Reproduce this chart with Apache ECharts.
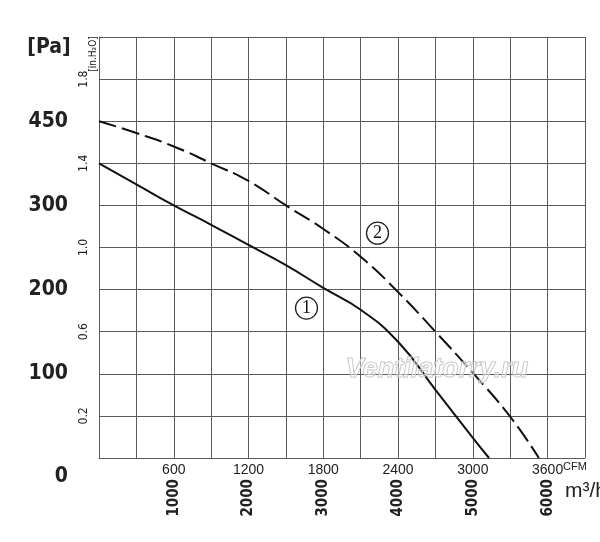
<!DOCTYPE html>
<html>
<head>
<meta charset="utf-8">
<script src="https://cdn.jsdelivr.net/npm/echarts@6/dist/echarts.min.js"></script>
<style>
html,body{margin:0;padding:0;background:#fff;}
#main{width:600px;height:542px;}
</style>
</head>
<body>
<div id="main"></div>
<script>
// data: airflow in CFM, pressure in Pa
var curve1 = [[0,350],[300,325],[600,300],[900,277],[1200,253],[1500,229],[1800,202],[2100,176],[2400,138],[2700,81],[3000,24],[3130,0]];
var curve2 = [[0,400],[300,386],[600,370],[900,350],[1200,329],[1500,300],[1800,272],[2100,239],[2400,197],[2700,150],[3000,101],[3300,49],[3530,0]];
var mark1 = [1665,178]; // ①
var mark2 = [2235,267]; // ②

var cfmTicks = [600,1200,1800,2400,3000,3600];
var m3Ticks = [1000,2000,3000,4000,5000,6000];
var inTicks = [0.2,0.6,1.0,1.4,1.8];
var paTicks = [0,100,200,300,400];
var paText = ['0','100','200','300','450'];

var narrow = "'Liberation Sans Narrow','DejaVu Sans Condensed','Arial Narrow',sans-serif";
var gridCol = '#5a5a5a';

var myChart = echarts.init(document.getElementById('main'));

function circleMark(pos, txt){
    return {
        symbol:'circle',
        symbolSize:22,
        itemStyle:{color:'#fff',borderColor:'#222',borderWidth:1.3},
        label:{show:true,position:'inside',formatter:txt,color:'#111',fontFamily:'Liberation Serif',fontSize:18},
        data:[{coord:pos}]
    };
}

var option = {
    animation:false,
    backgroundColor:'#fff',
    grid:{left:99,right:15,top:37,bottom:84,containLabel:false,outerBoundsMode:'none'},
    xAxis:[
        {
            type:'value',min:0,max:3900,interval:300,
            position:'bottom',
            axisLine:{show:true,lineStyle:{color:gridCol,width:1}},
            axisTick:{show:false},
            splitLine:{show:true,lineStyle:{color:gridCol,width:1}},
            axisLabel:{customValues:cfmTicks,margin:5,fontSize:14,color:'#222',fontFamily:'Arial',
                formatter:function(v){return String(v);}}
        },
        {
            type:'value',min:0,max:6500,
            position:'bottom',
            axisLine:{show:false},axisTick:{show:false},splitLine:{show:false},
            axisLabel:{customValues:m3Ticks,rotate:90,margin:21,fontSize:15,fontWeight:'bold',color:'#222',fontFamily:narrow,
                formatter:function(v){return String(v);}}
        }
    ],
    yAxis:[
        {
            type:'value',min:0,max:500,interval:50,
            position:'left',
            axisLine:{show:true,lineStyle:{color:gridCol,width:1}},
            axisTick:{show:false},
            splitLine:{show:true,lineStyle:{color:gridCol,width:1}},
            axisLabel:{
                customValues:paTicks,margin:31,fontSize:21,fontWeight:'bold',color:'#222',fontFamily:narrow,
                formatter:function(v){
                    var t = paText[paTicks.indexOf(v)];
                    return v === 0 ? '{z|' + t + '}' : t;
                },
                rich:{z:{fontSize:21,fontWeight:'bold',fontFamily:narrow,color:'#222',padding:[38,0,0,0]}}
            }
        },
        {
            type:'value',min:0,max:2.0,
            position:'left',
            axisLine:{show:false},axisTick:{show:false},splitLine:{show:false},
            axisLabel:{customValues:inTicks,rotate:90,margin:9,fontSize:12,color:'#222',fontFamily:narrow,
                formatter:function(v){return v.toFixed(1);}}
        }
    ],
    graphic:[
        {type:'text',x:49,y:48,style:{text:'[Pa]',align:'center',verticalAlign:'middle',fontSize:21,fontWeight:'bold',fontFamily:narrow,fill:'#222'}},
        {type:'text',x:93,y:54,rotation:Math.PI/2,style:{text:'[in.H₂O]',align:'center',verticalAlign:'middle',fontSize:10,fontFamily:narrow,fill:'#222'}},
        {type:'text',x:563,y:467,style:{text:'CFM',align:'left',verticalAlign:'middle',fontSize:11,fontFamily:'Arial',fill:'#222'}},
        {type:'text',x:565,y:491,style:{text:'m³/h',align:'left',verticalAlign:'middle',fontSize:21,fontFamily:'Arial',fill:'#222'}},
        {type:'text',x:437,y:370,z:100,style:{text:'Ventilatorry.ru',align:'center',verticalAlign:'middle',fontSize:27,fontStyle:'italic',fontWeight:'bold',fontFamily:'Arial',fill:'rgba(255,255,255,0.4)',stroke:'#bbb',lineWidth:1}}
    ],
    series:[
        {
            name:'1',type:'line',smooth:0.5,showSymbol:false,
            lineStyle:{color:'#111',width:2},
            data:curve1,
            markPoint:circleMark(mark1,'1')
        },
        {
            name:'2',type:'line',smooth:0.5,showSymbol:false,
            lineStyle:{color:'#111',width:2,type:[18,6]},
            data:curve2,
            markPoint:circleMark(mark2,'2')
        }
    ]
};
myChart.setOption(option);
</script>
</body>
</html>
